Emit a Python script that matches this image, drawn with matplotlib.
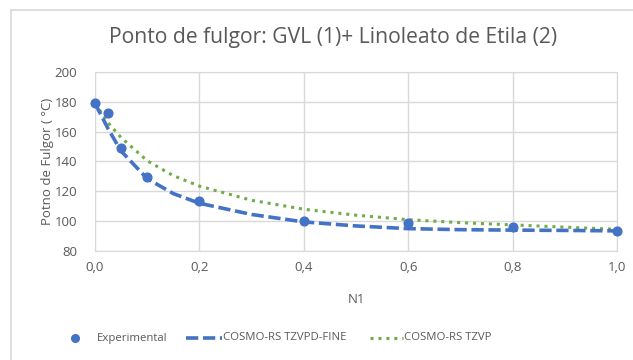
import matplotlib
matplotlib.use("Agg")
import matplotlib.pyplot as plt
from matplotlib.lines import Line2D

plt.rcParams['font.family'] = ['Open Sans', 'DejaVu Sans']

title = "Ponto de fulgor: GVL (1)+ Linoleato de Etila (2)"
xlabel = "N1"
ylabel = "Potno de Fulgor ( °C)"

exp_x = [0.0, 0.025, 0.05, 0.1, 0.2, 0.4, 0.6, 0.8, 1.0]
exp_y = [179, 172.7, 149, 129.6, 113.2, 100.4, 99, 96.4, 93.5]

model_x = [0.0, 0.025, 0.05, 0.1, 0.15, 0.2, 0.3, 0.4, 0.5, 0.6, 0.7, 0.8, 0.9, 1.0]
fine_y = [179, 162, 147, 128.5, 118.5, 112, 104.5, 99.5, 96.8, 95, 94.3, 94, 93.8, 93.5]
tzvp_y = [179, 166, 156, 140.5, 130.5, 123.5, 114, 108, 104, 101, 99, 97.5, 96, 94.5]

xticks = [0.0, 0.2, 0.4, 0.6, 0.8, 1.0]
xticklabels = ["0,0", "0,2", "0,4", "0,6", "0,8", "1,0"]
yticks = [80, 100, 120, 140, 160, 180, 200]
labels = ["Experimental", "COSMO-RS TZVPD-FINE", "COSMO-RS TZVP"]

W, H = 633, 360
fig = plt.figure(figsize=(W/100, H/100), dpi=100)
fig.patch.set_facecolor('white')

def fx(px):
    return px / W

def fy(py):
    return 1 - py / H

# chart border (left/top visible)
fig.add_artist(Line2D([fx(11), fx(11)], [0, fy(10)], transform=fig.transFigure, color='#d9d9d9', lw=1.2))
fig.add_artist(Line2D([fx(11), 1], [fy(10), fy(10)], transform=fig.transFigure, color='#d9d9d9', lw=1.2))

left, right, top, bottom = 95, 617, 72, 251
ax = fig.add_axes([fx(left), fy(bottom), (right-left)/W, (bottom-top)/H])

blue = '#4472c4'
green = '#70ad47'
gray = '#595959'
dash = (0, (3.4, 1.3))
dot = (0, (1, 1.6))

ax.plot(model_x, tzvp_y, color=green, lw=2.2, linestyle=dot, zorder=3)
ax.plot(model_x, fine_y, color=blue, lw=2.6, linestyle=dash, zorder=3)
ax.plot(exp_x, exp_y, 'o', color=blue, ms=6.3, zorder=4, clip_on=False)

ax.set_xlim(0, 1)
ax.set_ylim(80, 200)
ax.set_xticks(xticks)
ax.set_xticklabels(xticklabels)
ax.set_yticks(yticks)
ax.grid(True, color='#d9d9d9', lw=1)
ax.set_axisbelow(True)
for s in ax.spines.values():
    s.set_color('#d9d9d9')
ax.tick_params(axis='both', length=0, colors=gray, labelsize=9.5)
ax.tick_params(axis='y', pad=13)
ax.tick_params(axis='x', pad=7)

ax.set_xlabel(xlabel, color=gray, fontsize=9.5, labelpad=14)
ax.set_ylabel(ylabel, color=gray, fontsize=9.5, labelpad=0)

fig.text(fx(333), fy(38), title, ha='center', va='center', fontsize=15.2, color=gray)

# legend, laid out manually
ly = fy(338)
fig.add_artist(Line2D([fx(75)], [ly], transform=fig.transFigure, marker='o', color=blue,
                      linestyle='None', ms=5.5))
fig.text(fx(97), ly, labels[0], ha='left', va='center', fontsize=8.2, color=gray)
fig.add_artist(Line2D([fx(186), fx(222)], [ly, ly], transform=fig.transFigure, color=blue,
                      lw=2.6, linestyle=dash))
fig.text(fx(223), ly, labels[1], ha='left', va='center', fontsize=8.2, color=gray)
fig.add_artist(Line2D([fx(370), fx(403)], [ly, ly], transform=fig.transFigure, color=green,
                      lw=2.2, linestyle=dot))
fig.text(fx(404), ly, labels[2], ha='left', va='center', fontsize=8.2, color=gray)

fig.savefig("out.png", dpi=100)
